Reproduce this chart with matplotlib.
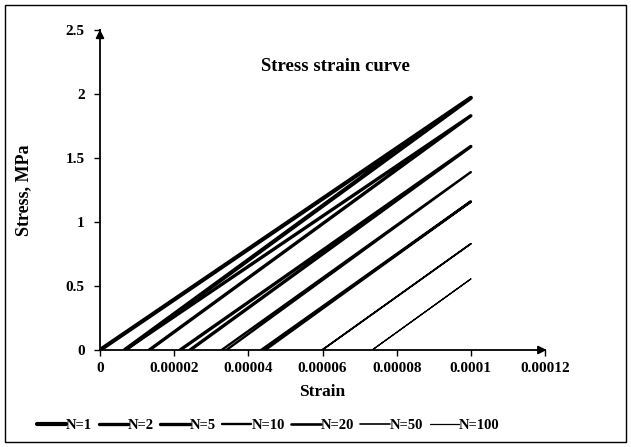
import matplotlib
matplotlib.use("Agg")
import matplotlib.pyplot as plt
from matplotlib.patches import Rectangle

# ---- data ----
series_labels = ['N=1', 'N=2', 'N=5', 'N=10', 'N=20', 'N=50', 'N=100']
peak_strain = 0.0001
peak_stress = [1.97, 1.83, 1.59, 1.39, 1.16, 0.83, 0.555]
load_start = [0.0, 0.67e-5, 2.16e-5, 3.28e-5, 4.35e-5, 5.99e-5, 7.34e-5]
unload_end = [0.67e-5, 1.33e-5, 2.43e-5, 3.41e-5, 4.45e-5, 5.99e-5, 7.34e-5]
line_widths = [3.0, 2.4, 2.4, 1.7, 1.9, 1.2, 0.9]

x_ticks = [0, 0.00002, 0.00004, 0.00006, 0.00008, 0.0001, 0.00012]
x_ticklabels = ['0', '0.00002', '0.00004', '0.00006', '0.00008', '0.0001', '0.00012']
y_ticks = [0, 0.5, 1, 1.5, 2, 2.5]
y_ticklabels = ['0', '0.5', '1', '1.5', '2', '2.5']

plt.rcParams['font.family'] = ['Liberation Serif', 'DejaVu Serif']
plt.rcParams['font.weight'] = 'bold'

W, H = 631, 447
fig = plt.figure(figsize=(W / 100, H / 100), dpi=100)
ax = fig.add_axes([100 / W, 1 - 350 / H, 445 / W, 320 / H])

handles = []
for lab, s0, sp, s1, lw in zip(series_labels, load_start, peak_stress, unload_end, line_widths):
    h, = ax.plot([s0, peak_strain, s1], [0, sp, 0], color='black', lw=lw,
                 solid_capstyle='round', solid_joinstyle='round', label=lab)
    handles.append(h)

ax.set_xlim(0, 0.00012)
ax.set_ylim(0, 2.5)
ax.set_xticks(x_ticks)
ax.set_xticklabels(x_ticklabels, fontsize=11, fontweight='bold')
ax.set_yticks(y_ticks)
ax.set_yticklabels(y_ticklabels, fontsize=11, fontweight='bold')
ax.tick_params(axis='both', direction='out', length=4, width=1, color='black', pad=5)
ax.tick_params(axis='y', pad=7)
for sp_name in ['top', 'right']:
    ax.spines[sp_name].set_visible(False)
for sp_name in ['left', 'bottom']:
    ax.spines[sp_name].set_linewidth(1.3)

# axis arrows
ax.annotate('', xy=(1.01, 0), xytext=(0.99, 0), xycoords='axes fraction',
            arrowprops=dict(arrowstyle='-|>', color='black', lw=1.3, mutation_scale=12),
            annotation_clip=False)
ax.annotate('', xy=(0, 1.01), xytext=(0, 0.99), xycoords='axes fraction',
            arrowprops=dict(arrowstyle='-|>', color='black', lw=1.3, mutation_scale=12),
            annotation_clip=False)

ax.set_xlabel('Strain', fontsize=12.5, fontweight='bold', labelpad=6)
ax.set_ylabel('Stress, MPa', fontsize=13, fontweight='bold', labelpad=24)
ax.text(0.53, 0.885, 'Stress strain curve', transform=ax.transAxes, ha='center', va='center',
        fontsize=13.5, fontweight='bold')

leg = fig.legend(handles=handles, loc='center', bbox_to_anchor=(268 / W, 1 - 425 / H),
                 ncol=7, frameon=False, handlelength=2.0, handletextpad=0.0,
                 columnspacing=0.45, prop={'size': 10.5, 'weight': 'bold'})

fig.patches.append(Rectangle((5 / W, 5 / H), 621 / W, 437 / H, transform=fig.transFigure,
                             fill=False, edgecolor='black', lw=1.0))

fig.savefig('out.png', dpi=100)
